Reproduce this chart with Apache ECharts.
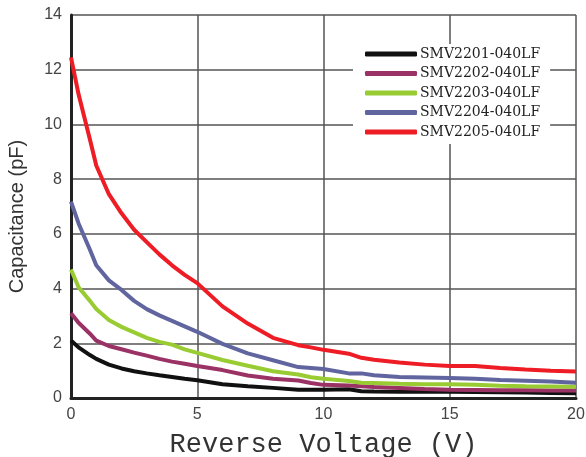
<!DOCTYPE html>
<html>
<head>
<meta charset="utf-8">
<script src="https://cdn.jsdelivr.net/npm/echarts@6/dist/echarts.min.js"></script>
<style>
  html, body { margin: 0; padding: 0; background: #fff; }
  #chart { width: 586px; height: 457px; }
</style>
</head>
<body>
<div id="chart"></div>
<script>
// reverse voltage (V), shared by all curves
const voltage = [0, 0.3, 0.75, 1, 1.5, 2, 2.5, 3, 3.5, 4, 4.5, 5, 6, 7, 8, 9, 9.5, 10, 11, 11.5, 12, 13, 14, 15, 16, 17, 18, 19, 20];

// capacitance (pF)
const smv2201 = [2.1, 1.85, 1.57, 1.43, 1.22, 1.08, 0.98, 0.9, 0.83, 0.77, 0.7, 0.65, 0.5, 0.43, 0.37, 0.3, 0.3, 0.3, 0.32, 0.25, 0.24, 0.23, 0.23, 0.23, 0.22, 0.21, 0.2, 0.18, 0.17];
const smv2202 = [3.1, 2.75, 2.35, 2.1, 1.9, 1.78, 1.66, 1.55, 1.43, 1.33, 1.25, 1.17, 1.02, 0.82, 0.7, 0.64, 0.55, 0.48, 0.46, 0.43, 0.4, 0.37, 0.33, 0.3, 0.29, 0.28, 0.28, 0.27, 0.27];
const smv2203 = [4.7, 4.05, 3.55, 3.25, 2.85, 2.6, 2.4, 2.2, 2.05, 1.95, 1.78, 1.65, 1.39, 1.18, 0.98, 0.86, 0.76, 0.7, 0.62, 0.56, 0.55, 0.52, 0.5, 0.5, 0.48, 0.45, 0.43, 0.42, 0.41];
const smv2204 = [7.18, 6.38, 5.42, 4.85, 4.3, 3.95, 3.55, 3.25, 3.02, 2.82, 2.62, 2.42, 1.98, 1.63, 1.38, 1.13, 1.1, 1.06, 0.9, 0.9, 0.83, 0.77, 0.75, 0.73, 0.7, 0.66, 0.63, 0.6, 0.56];
const smv2205 = [12.45, 11.1, 9.45, 8.5, 7.45, 6.75, 6.15, 5.7, 5.25, 4.85, 4.5, 4.2, 3.35, 2.72, 2.2, 1.93, 1.85, 1.76, 1.62, 1.47, 1.4, 1.3, 1.22, 1.17, 1.17, 1.1, 1.04, 1.0, 0.97];

const names = ['SMV2201-040LF', 'SMV2202-040LF', 'SMV2203-040LF', 'SMV2204-040LF', 'SMV2205-040LF'];
const colors = ['#111111', '#9b3265', '#99cc33', '#60659f', '#ee1c24'];
const curves = [smv2201, smv2202, smv2203, smv2204, smv2205];

const chart = echarts.init(document.getElementById('chart'), null, { renderer: 'canvas' });

const option = {
  animation: false,
  backgroundColor: '#fff',
  grid: { left: 71, right: 10, top: 15, bottom: 59, outerBoundsMode: 'none', containLabel: false },
  legend: {
    orient: 'vertical',
    left: 353,
    top: 44,
    padding: [3, 10, 5, 12],
    backgroundColor: '#fff',
    itemWidth: 52,
    itemHeight: 5,
    itemGap: 5.5,
    icon: 'roundRect',
    textStyle: { fontFamily: 'DejaVu Serif', fontSize: 14, color: '#222', padding: [0, 0, 0, -2] },
    data: names
  },
  xAxis: {
    type: 'value',
    min: 0, max: 20, interval: 5,
    name: 'Reverse Voltage (V)',
    nameLocation: 'middle',
    nameGap: 33,
    nameTextStyle: { fontFamily: 'Liberation Mono', fontSize: 27, color: '#333' },
    axisLine: { lineStyle: { color: '#222', width: 3 } },
    axisTick: { show: false },
    axisLabel: { fontFamily: 'Liberation Sans', fontSize: 16, color: '#444', margin: 9 },
    splitLine: { lineStyle: { color: '#555', width: 1.5 } }
  },
  yAxis: {
    type: 'value',
    min: 0, max: 14, interval: 2,
    name: 'Capacitance (pF)',
    nameLocation: 'middle',
    nameGap: 44,
    nameRotate: 90,
    nameTextStyle: { fontFamily: 'Liberation Sans Narrow, Liberation Sans', fontSize: 20, color: '#333', padding: [0, 20, 0, 0] },
    axisLine: { show: true, lineStyle: { color: '#222', width: 3 } },
    axisTick: { show: false },
    axisLabel: { fontFamily: 'Liberation Sans', fontSize: 16, color: '#444', margin: 9 },
    splitLine: { lineStyle: { color: '#555', width: 1.5 } }
  },
  series: curves.map(function (vals, i) {
    return {
      name: names[i],
      type: 'line',
      symbol: 'none',
      color: colors[i],
      lineStyle: { width: 4, color: colors[i] },
      data: voltage.map(function (v, j) { return [v, vals[j]]; })
    };
  })
};

chart.setOption(option);
</script>
</body>
</html>
